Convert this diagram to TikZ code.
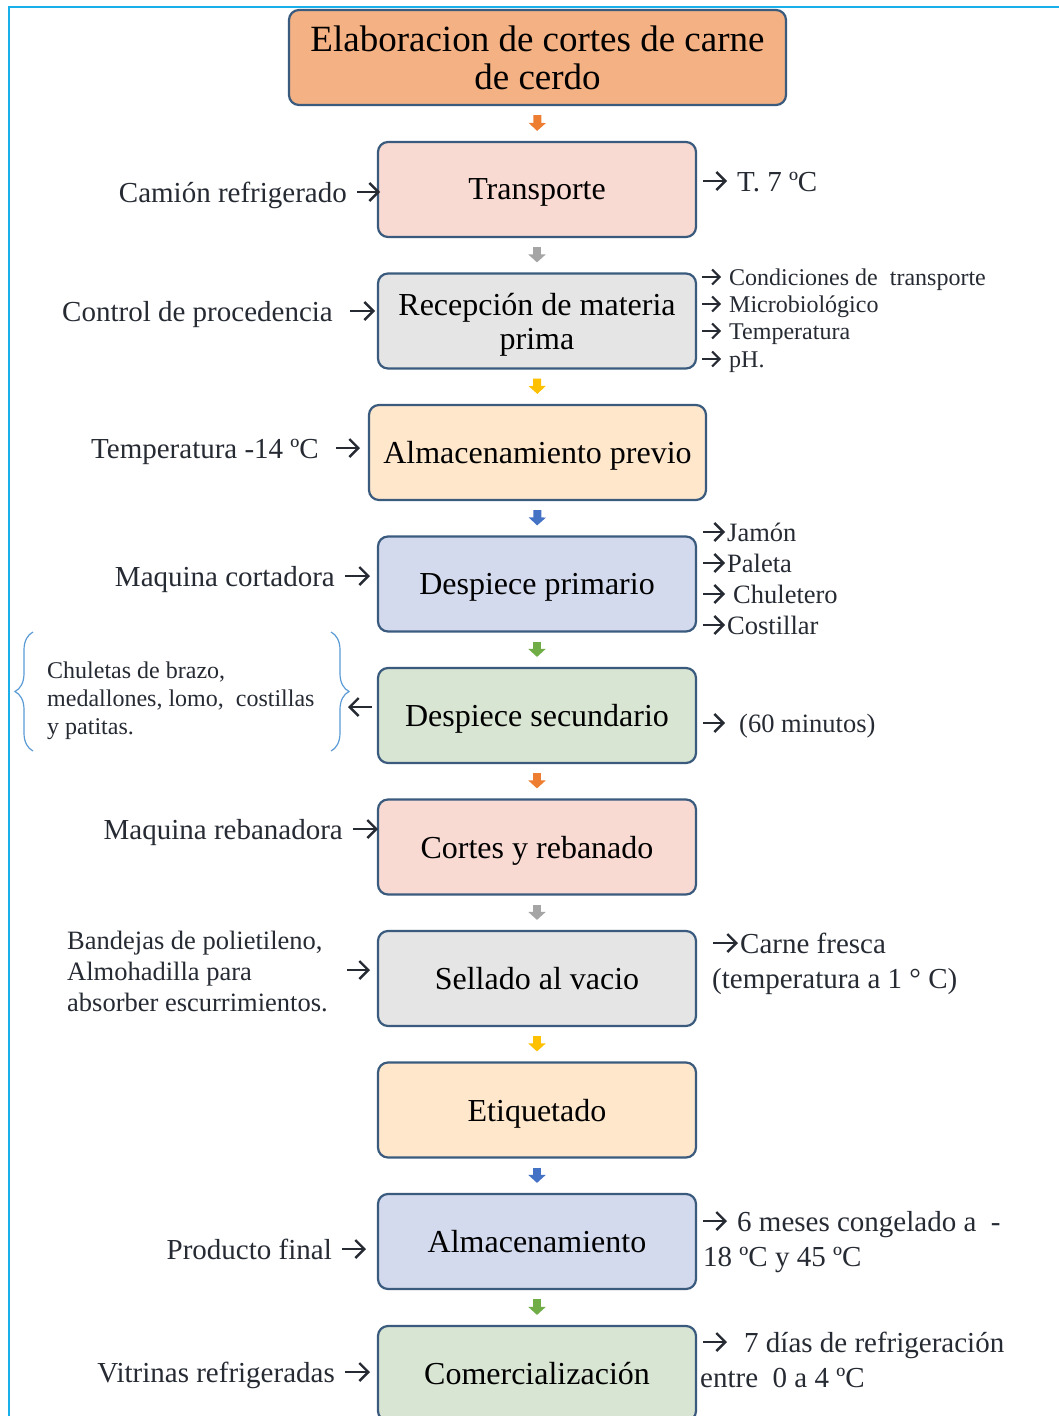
\documentclass[tikz,border=0pt]{standalone}
\usepackage{fontspec}
\setmainfont{Liberation Serif}
\usetikzlibrary{arrows.meta,decorations.pathreplacing}
\definecolor{bordc}{HTML}{3A5B7E}
\definecolor{txtc}{HTML}{262A33}
\definecolor{frame}{HTML}{1AAFEA}
\definecolor{ctitle}{HTML}{F4B183}
\definecolor{cpink}{HTML}{F8DAD2}
\definecolor{cgray}{HTML}{E5E5E5}
\definecolor{cpeach}{HTML}{FFE7CC}
\definecolor{cblue}{HTML}{D3DAEE}
\definecolor{cgreen}{HTML}{D9E5D3}
\definecolor{aorange}{HTML}{ED7D31}
\definecolor{agray}{HTML}{A5A5A5}
\definecolor{agold}{HTML}{FFC000}
\definecolor{ablue}{HTML}{4472C4}
\definecolor{agreen}{HTML}{70AD47}
\definecolor{bracec}{HTML}{5B9BD5}
\begin{document}
\begin{tikzpicture}[x=1pt,y=-1pt,
  box/.style={draw=bordc, line width=2.2pt, rounded corners=10pt, minimum width=318pt,
    minimum height=95pt, align=center, text=black, font=\fontsize{32}{34}\selectfont, inner sep=0pt, text depth=0pt},
  lab/.style={text=txtc, inner sep=0pt, font=\fontsize{29}{34}\selectfont, text height=23pt, text depth=3pt},
  slab/.style={text=txtc, inner sep=0pt, font=\fontsize{24}{28}\selectfont, text height=19pt, text depth=3pt},
  mlab/.style={text=txtc, inner sep=0pt, font=\fontsize{26.5}{31}\selectfont, text height=21pt, text depth=3pt},
  sarr/.style={draw=txtc, line width=2.4pt, -{Straight Barb[length=9pt,width=18pt]}},
  ssarr/.style={draw=txtc, line width=2pt, -{Straight Barb[length=7.5pt,width=15pt]}},
  blk/.style={draw=#1, line width=8pt, -{Triangle[width=17pt,length=8pt]}, shorten <=9pt, shorten >=10pt},
  brc/.style={draw=bracec, line width=1.2pt, decorate, decoration={brace, amplitude=18pt}}
]
\useasboundingbox (0,0) rectangle (1059,1416);
\clip (0,0) rectangle (1059,1416);
\fill[white] (0,0) rectangle (1059,1416);
\draw[frame, line width=2pt] (9,1420) -- (9,7) -- (1062,7);

% main boxes
\node[box, fill=ctitle, minimum width=497pt, font=\fontsize{37}{38}\selectfont] (title) at (537.5,57.5) {Elaboracion de cortes de carne\\de cerdo};
\node[box, fill=cpink] (tr) at (537,189.5) {Transporte};
\node[box, fill=cgray] (rm) at (537,321) {Recepción de materia\\prima};
\node[box, fill=cpeach, minimum width=337pt] (ap) at (537.5,452.5) {Almacenamiento previo};
\node[box, fill=cblue] (dp) at (537,584) {Despiece primario};
\node[box, fill=cgreen] (ds) at (537,715.5) {Despiece secundario};
\node[box, fill=cpink] (cr) at (537,847) {Cortes y rebanado};
\node[box, fill=cgray] (sv) at (537,978.5) {Sellado al vacio};
\node[box, fill=cpeach] (et) at (537,1110) {Etiquetado};
\node[box, fill=cblue] (al) at (537,1241.5) {Almacenamiento};
\node[box, fill=cgreen] (co) at (537,1373.5) {Comercialización};

% block arrows
\draw[blk=aorange] (title.south) -- (tr.north);
\draw[blk=agray] (tr.south) -- (rm.north);
\draw[blk=agold] (rm.south) -- (ap.north);
\draw[blk=ablue] (ap.south) -- (dp.north);
\draw[blk=agreen] (dp.south) -- (ds.north);
\draw[blk=aorange] (ds.south) -- (cr.north);
\draw[blk=agray] (cr.south) -- (sv.north);
\draw[blk=agold] (sv.south) -- (et.north);
\draw[blk=ablue] (et.south) -- (al.north);
\draw[blk=agreen] (al.south) -- (co.north);

% left labels
\node[lab, anchor=east] (l1) at (347,192) {Camión refrigerado};
\draw[sarr] ([xshift=10pt]l1.east) -- ([xshift=33pt]l1.east);
\node[lab, anchor=east] (l2) at (333,311) {Control de procedencia};
\draw[sarr] ([xshift=17pt]l2.east) -- ([xshift=42pt]l2.east);
\node[lab, anchor=east] (l3) at (319,448) {Temperatura -14 ºC};
\draw[sarr] ([xshift=17pt]l3.east) -- ([xshift=41pt]l3.east);
\node[lab, anchor=east] (l4) at (335,576) {Maquina cortadora};
\draw[sarr] ([xshift=10pt]l4.east) -- ([xshift=35pt]l4.east);
\node[lab, anchor=east] (l5) at (343,829) {Maquina rebanadora};
\draw[sarr] ([xshift=10pt]l5.east) -- ([xshift=35pt]l5.east);
\node[mlab, anchor=north west, align=left, text height=, text depth=] (l6) at (67,931) {Bandejas de polietileno,\\Almohadilla para\\absorber escurrimientos.};
\coordinate (l6a) at (347,970);
\draw[sarr] (l6a) -- ++(23,0);
\node[lab, anchor=east] (l7) at (332,1249) {Producto final};
\draw[sarr] ([xshift=10pt]l7.east) -- ([xshift=34pt]l7.east);
\node[lab, anchor=east] (l8) at (335,1372) {Vitrinas refrigeradas};
\draw[sarr] ([xshift=10pt]l8.east) -- ([xshift=35pt]l8.east);

% chuletas with braces
\node[slab, anchor=north west, align=left, text height=, text depth=, font=\fontsize{24}{28}\selectfont] (ch) at (47,662) {Chuletas de brazo,\\medallones, lomo,\ \ costillas\\y patitas.};
\draw[brc] (33,751) -- (33,632);
\draw[brc] (331,632) -- (331,751);
\coordinate (cha) at (372,707);
\draw[sarr] (cha) -- ++(-24,0);

% right texts
\node[lab, anchor=west] (r1) at (737,181) {T. 7 ºC};
\draw[sarr] ([xshift=-34pt]r1.west) -- ([xshift=-10pt]r1.west);

\node[slab, anchor=west] (r2a) at (729,277) {Condiciones de\ \ transporte};
\node[slab, anchor=west] (r2b) at (729,304) {Microbiológico};
\node[slab, anchor=west] (r2c) at (729,331) {Temperatura};
\node[slab, anchor=west] (r2d) at (729,359) {pH.};
\foreach \n in {r2a,r2b,r2c,r2d}{\draw[ssarr] ([xshift=-27pt]\n.west) -- ([xshift=-8pt]\n.west);}

\node[mlab, anchor=west] (r3a) at (727,532) {Jamón};
\node[mlab, anchor=west] (r3b) at (727,563) {Paleta};
\node[mlab, anchor=west] (r3c) at (733,594) {Chuletero};
\node[mlab, anchor=west] (r3d) at (727,625) {Costillar};
\foreach \n/\s in {r3a/0,r3b/0,r3c/6,r3d/0}{\draw[sarr] ([xshift=-24pt-\s pt]\n.west) -- ([xshift=-2pt-\s pt]\n.west);}

\node[mlab, anchor=west] (r4) at (739,723) {(60 minutos)};
\draw[sarr] ([xshift=-36pt]r4.west) -- ([xshift=-14pt]r4.west);

\node[lab, anchor=west] (r5a) at (740,943) {Carne fresca};
\node[lab, anchor=west] (r5b) at (712,978) {(temperatura a 1 ° C)};
\draw[sarr] ([xshift=-27pt]r5a.west) -- ([xshift=-2pt]r5a.west);

\node[lab, anchor=west] (r6a) at (737,1221) {6 meses congelado a\ \ -};
\node[lab, anchor=west] (r6b) at (703,1256) {18 ºC y 45 ºC};
\draw[sarr] ([xshift=-34pt]r6a.west) -- ([xshift=-10pt]r6a.west);

\node[lab, anchor=west] (r7a) at (744,1342) {7 días de refrigeración};
\node[lab, anchor=west] (r7b) at (700,1377) {entre\ \ 0 a 4 ºC};
\draw[sarr] ([xshift=-41pt]r7a.west) -- ([xshift=-17pt]r7a.west);
\end{tikzpicture}
\end{document}
